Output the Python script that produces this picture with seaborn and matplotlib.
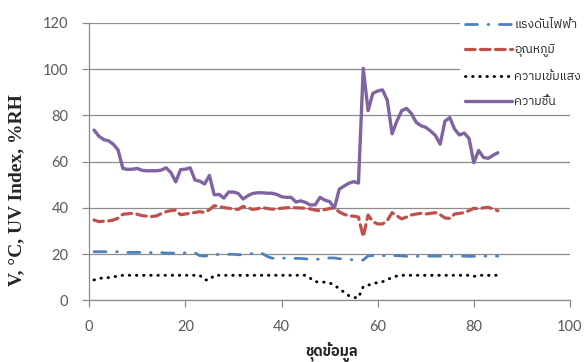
import numpy as np
import pandas as pd
import matplotlib
matplotlib.use("Agg")
import matplotlib.pyplot as plt
import seaborn as sns
from matplotlib import font_manager
from matplotlib.ft2font import FT2Font

# ข้อมูลที่อ่านจากกราฟ (ชุดข้อมูลที่ 1-85)
data_set = list(range(1, 86))

voltage = [21.0, 21.0, 21.0, 21.0, 21.0, 21.0, 20.7, 20.7, 20.7, 20.7,
           20.7, 20.7, 20.6, 20.6, 20.6, 20.4, 20.4, 20.4, 20.4, 20.5,
           20.5, 20.5, 19.3, 19.1, 19.4, 19.6, 19.9, 19.9, 19.9, 19.9,
           19.7, 19.7, 19.7, 20.3, 20.5, 20.2, 19.0, 18.2, 18.2, 18.2,
           18.2, 18.2, 18.1, 18.1, 17.9, 17.7, 17.6, 17.9, 18.3, 18.3,
           18.3, 18.0, 17.8, 17.6, 17.5, 17.3, 17.4, 19.2, 19.3, 19.3,
           19.3, 19.3, 19.3, 19.3, 19.2, 19.0, 19.0, 19.0, 19.1, 19.1,
           19.1, 19.1, 19.1, 19.1, 19.1, 19.1, 19.1, 19.1, 19.0, 19.0,
           19.0, 19.1, 19.1, 19.2, 19.1]

temperature = [34.7, 34.0, 34.2, 34.3, 34.7, 35.5, 37.2, 37.4, 37.6, 37.2,
               36.6, 36.4, 36.2, 36.5, 37.5, 38.3, 38.8, 39.0, 37.0, 37.3,
               37.6, 38.0, 38.3, 38.0, 39.2, 40.9, 40.5, 40.1, 39.8, 39.5,
               39.3, 40.6, 40.0, 39.3, 39.6, 40.1, 39.7, 39.4, 39.5, 39.8,
               40.0, 40.1, 40.0, 39.9, 39.8, 39.5, 39.0, 38.7, 39.2, 39.7,
               40.0, 38.2, 37.2, 36.5, 36.4, 36.0, 27.5, 36.9, 34.0, 33.0,
               33.0, 34.5, 37.9, 36.5, 35.2, 36.0, 36.9, 37.3, 37.6, 37.3,
               37.6, 37.9, 37.0, 35.6, 35.4, 37.3, 37.6, 37.9, 38.8, 39.8,
               39.5, 40.0, 40.2, 39.5, 38.7]

light = [8.8, 9.3, 9.8, 9.8, 10.2, 10.4, 10.8, 10.8, 10.8, 10.8,
         10.8, 10.8, 10.8, 10.8, 10.8, 10.8, 10.8, 10.8, 10.8, 10.8,
         10.8, 10.8, 10.8, 8.8, 8.8, 10.8, 10.8, 10.8, 10.8, 10.8,
         10.8, 10.8, 10.8, 10.8, 10.8, 10.8, 10.8, 10.8, 10.8, 10.8,
         10.8, 10.8, 10.8, 10.8, 10.8, 9.5, 8.0, 8.0, 7.8, 7.5,
         6.5, 5.0, 3.5, 2.0, 1.2, 1.1, 5.9, 6.5, 7.3, 7.6,
         8.0, 9.0, 9.8, 10.5, 10.8, 10.8, 10.8, 10.8, 10.8, 10.8,
         10.8, 10.8, 10.8, 10.8, 10.8, 10.8, 10.8, 10.8, 10.8, 10.3,
         10.8, 10.8, 10.8, 10.8, 10.8]

humidity = [73.6, 71.0, 69.5, 69.0, 67.5, 65.0, 57.0, 56.6, 56.7, 57.0,
            56.2, 56.0, 56.0, 56.0, 56.3, 57.3, 55.2, 51.2, 56.5, 56.7,
            57.3, 52.0, 51.5, 50.3, 54.0, 45.6, 45.8, 44.2, 46.8, 46.8,
            46.2, 43.8, 45.2, 46.2, 46.5, 46.5, 46.3, 46.3, 45.8, 44.8,
            44.5, 44.5, 42.5, 43.0, 42.3, 41.2, 41.3, 44.5, 43.3, 42.7,
            39.9, 48.0, 49.4, 50.6, 51.3, 50.7, 100.3, 82.0, 89.5, 90.5,
            91.0, 86.5, 72.0, 77.5, 82.0, 83.0, 80.8, 77.0, 75.5, 74.8,
            73.2, 71.3, 67.5, 77.5, 79.0, 74.0, 71.5, 72.3, 70.0, 59.5,
            64.8, 61.8, 61.4, 62.7, 63.8]

labels = ['แรงดันไฟฟ้า', 'อุณหภูมิ', 'ความเข้มแสง', 'ความชื้น']
colors = ['#4F81BD', '#C0504D', '#000000', '#8064A2']

df = pd.DataFrame({'x': data_set, labels[0]: voltage, labels[1]: temperature,
                   labels[2]: light, labels[3]: humidity})

# หาฟอนต์ที่มีอักษรไทย
thai_font = None
cands = sorted(font_manager.fontManager.ttflist,
               key=lambda f: (0 if 'Thai' in f.name else 1, f.name))
for f in cands:
    try:
        if FT2Font(f.fname).get_char_index(0x0E01):
            thai_font = f.name
            break
    except Exception:
        pass

sns.set_style("white")
fam = [thai_font, 'DejaVu Sans'] if thai_font else ['DejaVu Sans']
plt.rcParams['font.family'] = fam

fig = plt.figure(figsize=(5.87, 3.62), dpi=100)
ax = fig.add_axes([0.152, 0.1705, 0.819, 0.7665])

styles = [dict(lw=2.0, dashes=(4.3, 3.8, 0.3, 3.8)),
          dict(lw=2.3, dashes=(3.0, 1.7)),
          dict(lw=2.1, dashes=(0.15, 2.3)),
          dict(lw=2.4, dashes=None)]

for lab, col, st in zip(labels, colors, styles):
    sns.lineplot(data=df, x='x', y=lab, ax=ax, color=col, lw=st['lw'],
                 label=lab, legend=False)
    line = ax.lines[-1]
    line.set_solid_capstyle('round')
    line.set_dash_capstyle('round')
    line.set_solid_joinstyle('round')
    if st['dashes'] is not None:
        line.set_dashes(st['dashes'])

ax.set_xlim(0, 100)
ax.set_ylim(0, 120)
ax.set_xticks(range(0, 101, 20))
ax.set_yticks(range(0, 121, 20))
ax.grid(axis='y', color='#8C8C8C', lw=0.9)
ax.set_axisbelow(True)
for s in ['top', 'right']:
    ax.spines[s].set_visible(False)
for s in ['left', 'bottom']:
    ax.spines[s].set_color('#8C8C8C')
    ax.spines[s].set_linewidth(0.9)
ax.tick_params(axis='both', direction='out', length=5, width=0.9,
               color='#8C8C8C', labelcolor='#595959', labelsize=10.5,
               left=True, bottom=True)
ax.tick_params(axis='y', pad=10)
ax.tick_params(axis='x', pad=9)
for t in ax.get_xticklabels() + ax.get_yticklabels():
    t.set_family(['Lato', 'DejaVu Sans'])

ax.set_ylabel('V, °C, UV Index, %RH', family=['Liberation Serif', 'DejaVu Serif'],
              fontweight='bold', fontsize=14)
ax.yaxis.set_label_coords(-0.134, 0.396)
ax.set_xlabel('ชุดข้อมูล', fontweight='bold', fontsize=10.5)
ax.xaxis.set_label_coords(0.505, -0.152)

handles = ax.lines[:4]
leg = fig.legend(handles, labels, loc='upper left', bbox_to_anchor=(0.774, 0.978),
                 frameon=True, facecolor='white', edgecolor='none', framealpha=1,
                 fontsize=8.8, handlelength=3.8, handletextpad=0.2,
                 labelspacing=1.15, borderpad=0.4)
leg.set_zorder(5)

fig.savefig('out.png', dpi=100)
